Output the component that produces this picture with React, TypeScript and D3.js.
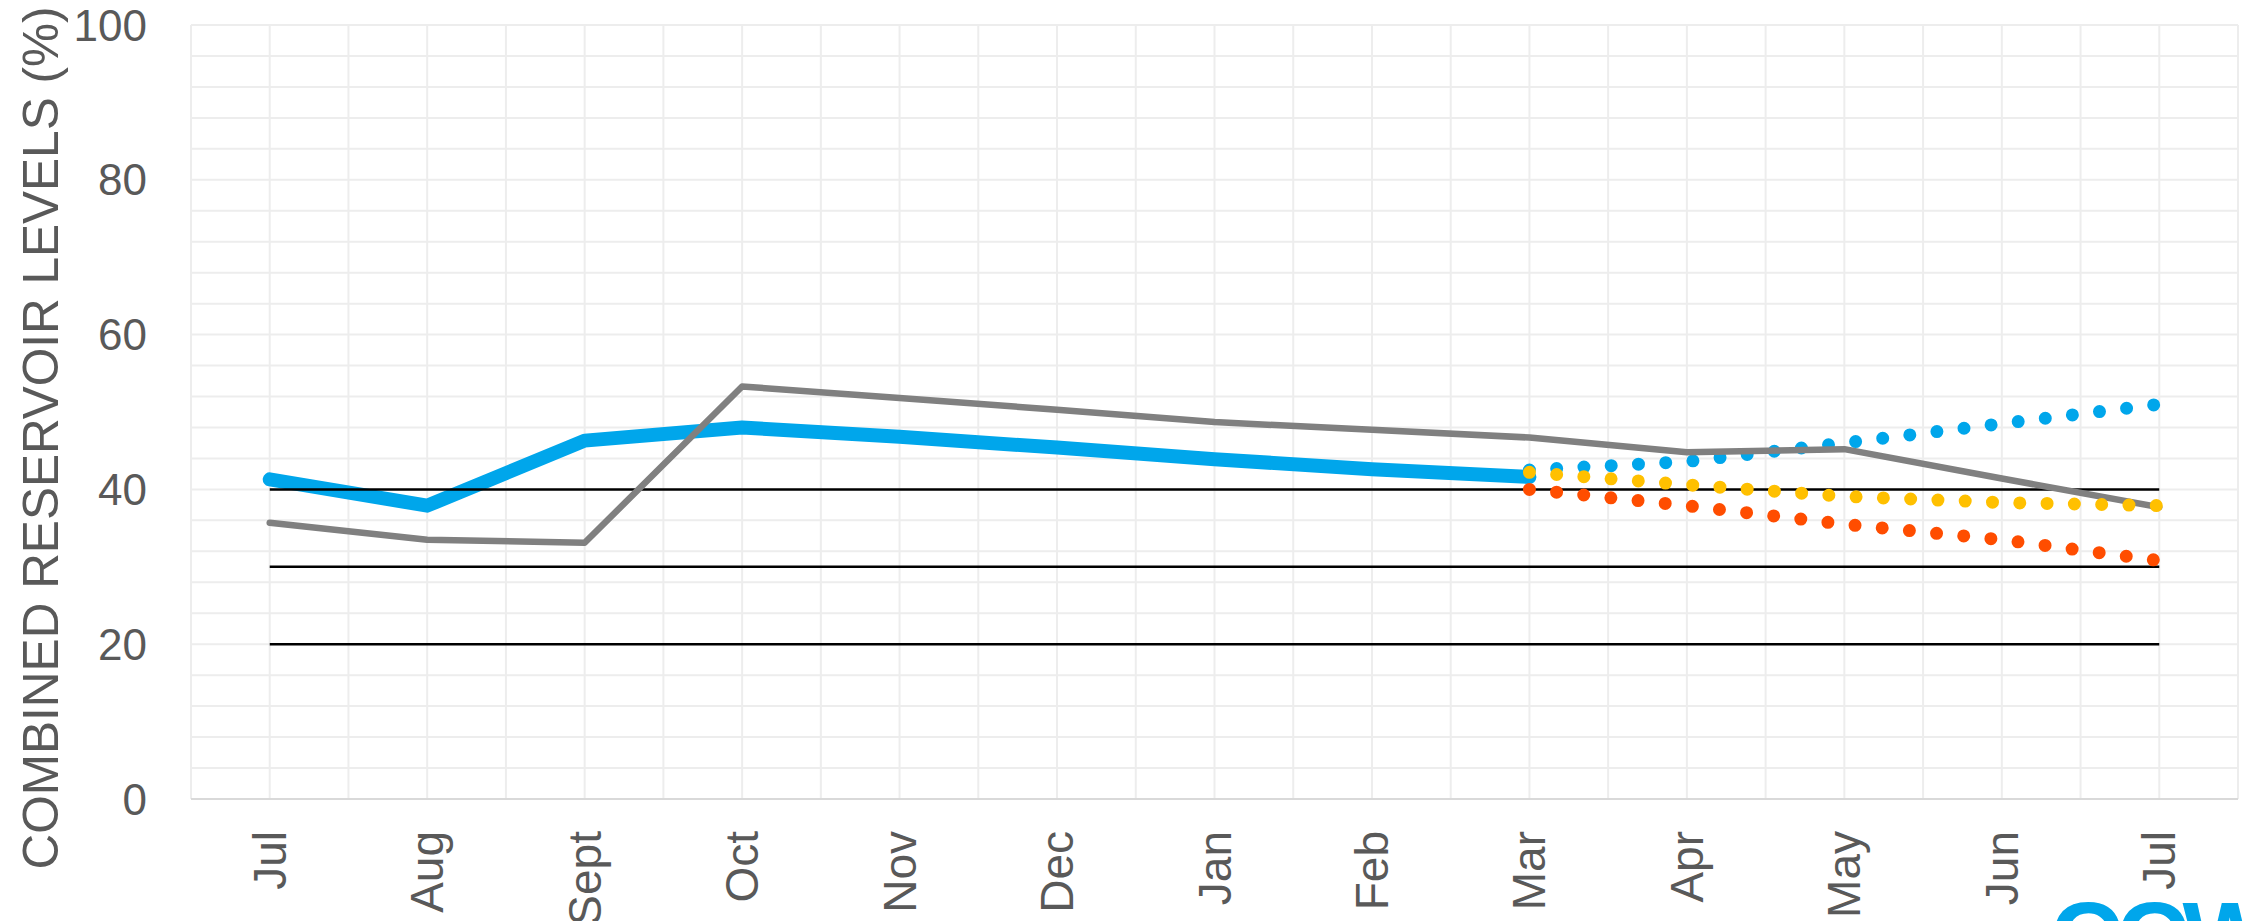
//@ts-nocheck
import * as d3 from "d3";
import { useEffect, useRef } from "react";

// month labels (index based, the year wraps so Jul shows up twice)
const months = ["Jul", "Aug", "Sept", "Oct", "Nov", "Dec", "Jan", "Feb", "Mar", "Apr", "May", "Jun", "Jul"];

// actual levels this season, Jul -> Mar
const actual = [41.3, 37.9, 46.3, 48.0, 46.8, 45.4, 43.9, 42.6, 41.6];
// previous year, full Jul -> Jul
const lastYear = [35.7, 33.5, 33.1, 53.3, 51.8, 50.3, 48.7, 47.7, 46.7, 44.8, 45.2, 41.4, 37.7];
// forecast scenarios, Mar -> Jul (index 8..12)
const forecastStart = 8;
const forecastHigh = [42.5, 43.6, 46.0, 48.5, 51.0];
const forecastMid = [42.2, 40.6, 39.1, 38.3, 37.9];
const forecastLow = [40.0, 37.9, 35.5, 33.5, 30.8];
// restriction levels
const thresholds = [40, 30, 20];
const yTicks = [0, 20, 40, 60, 80, 100];

const W = 2254;
const H = 921;

const ReservoirChart = () => {
  const ref = useRef(null);

  useEffect(() => {
    ref.current.innerHTML = "";
    const svg = d3.select(ref.current);
    const font = "'Liberation Sans', Arial, sans-serif";

    const x = d3.scaleLinear().domain([-0.5, 12.5]).range([191, 2238]);
    const y = d3.scaleLinear().domain([0, 100]).range([799, 25]);

    // grid: every half month, every 4%
    const g = svg.append("g");
    g.selectAll("vgrid")
      .data(d3.range(-0.5, 12.51, 0.5))
      .enter()
      .append("line")
      .attr("x1", d => x(d))
      .attr("x2", d => x(d))
      .attr("y1", y(100))
      .attr("y2", y(0))
      .attr("stroke", "#ededed")
      .attr("stroke-width", 2);
    g.selectAll("hgrid")
      .data(d3.range(0, 101, 4))
      .enter()
      .append("line")
      .attr("x1", x(-0.5))
      .attr("x2", x(12.5))
      .attr("y1", d => y(d))
      .attr("y2", d => y(d))
      .attr("stroke", "#ededed")
      .attr("stroke-width", 2);
    // bottom axis line
    g.append("line")
      .attr("x1", x(-0.5))
      .attr("x2", x(12.5))
      .attr("y1", y(0))
      .attr("y2", y(0))
      .attr("stroke", "#d9d9d9")
      .attr("stroke-width", 2);

    // y tick labels
    svg.selectAll("ytick")
      .data(yTicks)
      .enter()
      .append("text")
      .attr("x", 147)
      .attr("y", d => y(d))
      .attr("text-anchor", "end")
      .attr("dominant-baseline", "central")
      .style("font-family", font)
      .style("font-size", "44px")
      .attr("fill", "#595959")
      .text(d => d);

    // x tick labels, rotated
    svg.selectAll("xtick")
      .data(months)
      .enter()
      .append("text")
      .attr("transform", (d, i) => "translate(" + x(i) + ",831) rotate(-90)")
      .attr("text-anchor", "end")
      .attr("dominant-baseline", "central")
      .style("font-family", font)
      .style("font-size", "46px")
      .attr("fill", "#595959")
      .text(d => d);

    // axis title
    svg.append("text")
      .attr("transform", "translate(40,438) rotate(-90)")
      .attr("text-anchor", "middle")
      .attr("dominant-baseline", "central")
      .style("font-family", font)
      .style("font-size", "49.5px")
      .attr("fill", "#595959")
      .text("COMBINED RESERVOIR LEVELS (%)");

    const line = d3.line().x(d => x(d[0])).y(d => y(d[1]));
    const pairs = (arr, offset) => arr.map((v, i) => [i + offset, v]);

    // actual levels - thick blue
    svg.append("path")
      .attr("d", line(pairs(actual, 0)))
      .attr("fill", "none")
      .attr("stroke", "#00A6EB")
      .attr("stroke-width", 14)
      .attr("stroke-linecap", "round")
      .attr("stroke-linejoin", "round");

    // threshold lines
    svg.selectAll("thresh")
      .data(thresholds)
      .enter()
      .append("line")
      .attr("x1", x(0))
      .attr("x2", x(12))
      .attr("y1", d => y(d))
      .attr("y2", d => y(d))
      .attr("stroke", "#000")
      .attr("stroke-width", 2.5);

    const dotted = (arr, color) => {
      svg.append("path")
        .attr("d", line(pairs(arr, forecastStart)))
        .attr("fill", "none")
        .attr("stroke", color)
        .attr("stroke-width", 13)
        .attr("stroke-linecap", "round")
        .attr("stroke-dasharray", "0 27.3");
    };

    dotted(forecastHigh, "#00A6EB");

    // last year - grey
    svg.append("path")
      .attr("d", line(pairs(lastYear, 0)))
      .attr("fill", "none")
      .attr("stroke", "#808080")
      .attr("stroke-width", 6.5)
      .attr("stroke-linecap", "round")
      .attr("stroke-linejoin", "round");

    dotted(forecastLow, "#FF4D00");
    dotted(forecastMid, "#FFC000");

    // logo peeking in at the bottom right
    svg.append("text")
      .attr("x", 2050)
      .attr("y", 972)
      .style("font-family", font)
      .style("font-weight", "bold")
      .style("font-size", "100px")
      .style("letter-spacing", "-6px")
      .attr("fill", "#00A6EB")
      .text("CCW");
  }, []);

  return (
    <div style={{ position: "absolute", left: 0, top: 0 }}>
      <svg ref={ref} width={W} height={H} style={{ display: "block", background: "#fff" }}></svg>
    </div>
  );
};

export default function App() {
  return <ReservoirChart />;
}
